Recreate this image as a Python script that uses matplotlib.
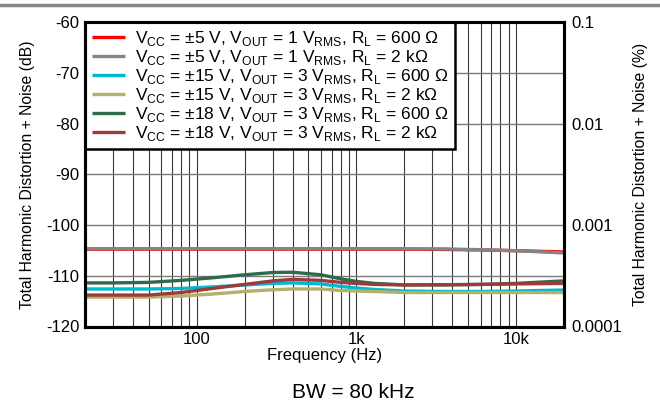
import matplotlib
matplotlib.use("Agg")
import matplotlib.pyplot as plt
from matplotlib.lines import Line2D
from matplotlib.ticker import FixedLocator, NullFormatter, NullLocator

plt.rcParams["font.family"] = ["Liberation Sans", "DejaVu Sans"]
plt.rcParams["axes.unicode_minus"] = False
plt.rcParams["mathtext.fontset"] = "custom"
plt.rcParams["mathtext.rm"] = "Liberation Sans"

# frequency points (Hz) and THD+N readings (dB) per curve
freq = [20, 30, 50, 80, 125, 200, 300, 400, 600, 800, 1000, 1300, 2000, 3500, 6000, 10000, 20000]
thd_5v_600 = [-104.75, -104.75, -104.75, -104.75, -104.75, -104.75, -104.75, -104.75, -104.75,
              -104.75, -104.75, -104.75, -104.75, -104.8, -104.9, -105.05, -105.3]
thd_5v_2k = [-104.65, -104.65, -104.65, -104.65, -104.65, -104.65, -104.65, -104.65, -104.65,
             -104.65, -104.65, -104.65, -104.65, -104.7, -104.85, -105.05, -105.5]
thd_15v_600 = [-112.6, -112.6, -112.6, -112.5, -112.2, -111.8, -111.5, -111.4, -111.6,
               -112.1, -112.4, -112.7, -113.0, -113.1, -113.1, -113.0, -112.8]
thd_15v_2k = [-114.2, -114.2, -114.2, -114.0, -113.6, -113.1, -112.75, -112.6, -112.6,
              -112.9, -113.0, -113.1, -113.3, -113.3, -113.3, -113.3, -113.3]
thd_18v_600 = [-111.4, -111.4, -111.3, -110.9, -110.4, -109.8, -109.35, -109.3, -109.8,
               -110.6, -111.1, -111.5, -111.8, -111.8, -111.7, -111.5, -111.0]
thd_18v_2k = [-113.8, -113.8, -113.8, -113.3, -112.5, -111.7, -111.0, -110.7, -110.9,
              -111.3, -111.5, -111.7, -111.8, -111.75, -111.7, -111.6, -111.5]

labels = [
    r"V$_{\mathregular{CC}}$ = ±5 V, V$_{\mathregular{OUT}}$ = 1 V$_{\mathregular{RMS}}$, R$_{\mathregular{L}}$ = 600 Ω",
    r"V$_{\mathregular{CC}}$ = ±5 V, V$_{\mathregular{OUT}}$ = 1 V$_{\mathregular{RMS}}$, R$_{\mathregular{L}}$ = 2 kΩ",
    r"V$_{\mathregular{CC}}$ = ±15 V, V$_{\mathregular{OUT}}$ = 3 V$_{\mathregular{RMS}}$, R$_{\mathregular{L}}$ = 600 Ω",
    r"V$_{\mathregular{CC}}$ = ±15 V, V$_{\mathregular{OUT}}$ = 3 V$_{\mathregular{RMS}}$, R$_{\mathregular{L}}$ = 2 kΩ",
    r"V$_{\mathregular{CC}}$ = ±18 V, V$_{\mathregular{OUT}}$ = 3 V$_{\mathregular{RMS}}$, R$_{\mathregular{L}}$ = 600 Ω",
    r"V$_{\mathregular{CC}}$ = ±18 V, V$_{\mathregular{OUT}}$ = 3 V$_{\mathregular{RMS}}$, R$_{\mathregular{L}}$ = 2 kΩ",
]
series = [thd_5v_600, thd_5v_2k, thd_15v_600, thd_15v_2k, thd_18v_600, thd_18v_2k]
colors = ["#ff0000", "#858585", "#00b9d1", "#b3b06c", "#2e6b4b", "#a03a3a"]

fig = plt.figure(figsize=(6.6, 4.09), dpi=100)
ax = fig.add_axes([85 / 660, 1 - 326.5 / 409, (564 - 85) / 660, (326.5 - 22.3) / 409])

for vals, col, lab in zip(series, colors, labels):
    ax.plot(freq, vals, color=col, lw=2.4, label=lab, solid_capstyle="butt", zorder=3)

ax.set_xscale("log")
ax.set_xlim(20, 20000)
ax.set_ylim(-120, -60)
ax.set_yticks(range(-120, -59, 10))
ax.xaxis.set_major_locator(FixedLocator([100, 1000, 10000]))
ax.set_xticklabels(["100", "1k", "10k"])
minors = [m * d for d in (10, 100, 1000) for m in range(2, 10)]
ax.xaxis.set_minor_locator(FixedLocator([v for v in minors if v > 20]))
ax.xaxis.set_minor_formatter(NullFormatter())
ax.grid(True, which="both", axis="x", color="#3a3a3a", lw=0.8, zorder=1)
ax.grid(True, which="major", axis="y", color="#7a7a7a", lw=1.0, zorder=1)
ax.tick_params(which="both", length=0, labelsize=12, pad=4)
for sp in ax.spines.values():
    sp.set_linewidth(2.2)
    sp.set_zorder(5)

ax.set_xlabel("Frequency (Hz)", fontsize=12, labelpad=1)
ax.set_ylabel("Total Harmonic Distortion + Noise (dB)", fontsize=11.3, labelpad=8)

ax2 = ax.twinx()
ax2.set_yscale("log")
ax2.set_ylim(1e-4, 0.1)
ax2.yaxis.set_major_locator(FixedLocator([1e-4, 1e-3, 1e-2, 1e-1]))
ax2.set_yticklabels(["0.0001", "0.001", "0.01", "0.1"])
ax2.yaxis.set_minor_locator(NullLocator())
ax2.tick_params(which="both", length=0, labelsize=12, pad=5)
ax2.set_ylabel("Total Harmonic Distortion + Noise (%)", fontsize=11.3, labelpad=8)
for sp in ax2.spines.values():
    sp.set_linewidth(2.2)

leg = ax.legend(loc="upper left", borderaxespad=0, fontsize=12.5, handlelength=1.9,
                handletextpad=0.6, labelspacing=0.0, borderpad=0.38, fancybox=False,
                framealpha=1, edgecolor="black")
leg.get_frame().set_linewidth(1.8)
leg.set_zorder(4)

fig.add_artist(Line2D([0, 1], [1 - 5 / 409, 1 - 5 / 409], color="#888888", lw=2.5))
fig.text(353 / 660, 1 - 392 / 409, "BW = 80 kHz", ha="center", va="center", fontsize=15)

fig.savefig("out.png", dpi=100)
